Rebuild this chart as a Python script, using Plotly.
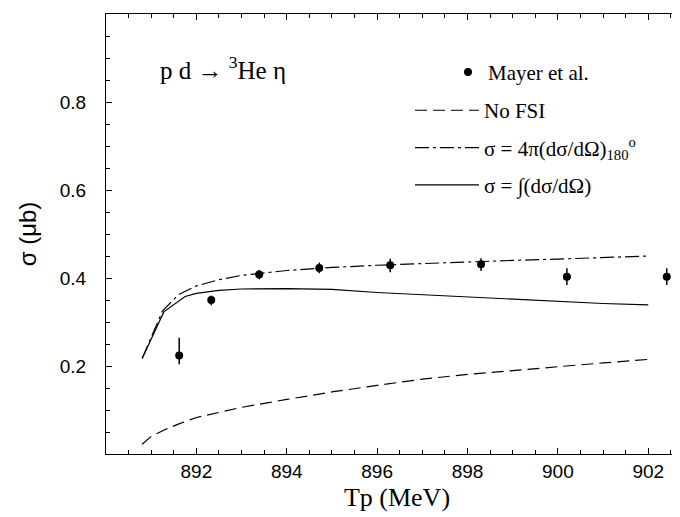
import plotly.graph_objects as go

# ---- data ----
tp_data = [891.62, 892.33, 893.39, 894.72, 896.29, 898.30, 900.20, 902.41]
sigma_data = [0.224, 0.350, 0.408, 0.423, 0.429, 0.431, 0.403, 0.403]
err_plus = [0.040, 0.010, 0.010, 0.012, 0.015, 0.014, 0.019, 0.019]
err_minus = [0.020, 0.012, 0.011, 0.012, 0.016, 0.015, 0.019, 0.019]

tp_nofsi = [890.8, 891.0, 891.3, 891.6, 892.0, 893.0, 894.0, 895.0, 896.0, 897.0,
            898.0, 899.0, 900.0, 901.0, 902.0]
sigma_nofsi = [0.022, 0.040, 0.055, 0.068, 0.083, 0.106, 0.124, 0.141, 0.156, 0.170,
               0.181, 0.190, 0.199, 0.207, 0.215]

tp_180 = [890.8, 891.25, 891.6, 892.0, 892.5, 893.0, 894.0, 895.0, 896.0, 897.0,
          898.0, 899.0, 900.0, 901.0, 902.0]
sigma_180 = [0.217, 0.325, 0.362, 0.382, 0.396, 0.406, 0.417, 0.424, 0.429, 0.433,
             0.437, 0.440, 0.443, 0.447, 0.450]

tp_int = [890.8, 891.28, 891.75, 892.0, 892.5, 893.0, 894.0, 895.0, 896.0, 897.0,
          898.0, 899.0, 900.0, 901.0, 902.0]
sigma_int = [0.217, 0.323, 0.358, 0.365, 0.372, 0.375, 0.376, 0.374, 0.367, 0.362,
             0.356, 0.351, 0.346, 0.342, 0.339]

x_tickvals = [892, 894, 896, 898, 900, 902]
x_ticktext = ["892", "894", "896", "898", "900", "902"]
y_tickvals = [0.2, 0.4, 0.6, 0.8]
y_ticktext = ["0.2", "0.4", "0.6", "0.8"]

names = ["Mayer et al.", "No FSI",
         "σ = 4π(dσ/dΩ)<sub>180</sub><sup>o</sup>", "σ = ∫(dσ/dΩ)"]

SERIF = "Liberation Serif, Times New Roman, serif"
SANS = "Liberation Sans, Arial, sans-serif"

fig = go.Figure()

fig.add_trace(go.Scatter(x=tp_nofsi, y=sigma_nofsi, mode="lines", name=names[1],
                         line=dict(color="black", width=1.2, dash="12px,6px"),
                         legendrank=2, legendgroup="b"))
fig.add_trace(go.Scatter(x=tp_180, y=sigma_180, mode="lines", name=names[2],
                         line=dict(color="black", width=1.2, dash="14px,4px,3px,4px"),
                         legendrank=3, legendgroup="c"))
fig.add_trace(go.Scatter(x=tp_int, y=sigma_int, mode="lines", name=names[3],
                         line=dict(color="black", width=1.2),
                         legendrank=4, legendgroup="d"))
fig.add_trace(go.Scatter(x=tp_data, y=sigma_data, mode="markers", name=names[0],
                         marker=dict(color="black", size=8),
                         error_y=dict(type="data", symmetric=False, array=err_plus,
                                      arrayminus=err_minus, color="black",
                                      thickness=1.5, width=0),
                         legend="legend2"))
# invisible helper trace so the right-hand tick axis is rendered
fig.add_trace(go.Scatter(x=tp_data, y=sigma_data, mode="none", yaxis="y2",
                         showlegend=False, hoverinfo="skip"))

XR = [890, 902.88]
YR = [0, 1.0]

fig.update_layout(
    width=680, height=517,
    margin=dict(l=98, r=0, t=6, b=70.5),
    paper_bgcolor="white", plot_bgcolor="white",
    showlegend=True,
    legend=dict(x=0.5223, y=0.827, xanchor="left", yanchor="top",
                font=dict(family=SERIF, size=21, color="black"),
                itemwidth=64, tracegroupgap=7, traceorder="grouped",
                bgcolor="rgba(0,0,0,0)"),
    legend2=dict(x=0.5876, y=0.914, xanchor="left", yanchor="top",
                 font=dict(family=SERIF, size=21, color="black"),
                 itemwidth=30, bgcolor="rgba(0,0,0,0)"),
    xaxis=dict(range=XR, showline=True, linecolor="black", linewidth=1.2,
               mirror="ticks", ticks="inside", ticklen=6, tickcolor="black",
               tickvals=x_tickvals, ticktext=x_ticktext, showgrid=False,
               zeroline=False,
               tickfont=dict(family=SANS, size=19, color="black"),
               minor=dict(dtick=0.5, tick0=890, ticks="inside", ticklen=3.5,
                          tickcolor="black", showgrid=False),
               title=dict(text="Tp (MeV)", font=dict(family=SERIF, size=26, color="black"),
                          standoff=6)),
    yaxis=dict(range=YR, showline=True, linecolor="black", linewidth=1.2,
               mirror=False, ticks="inside", ticklen=6, tickcolor="black",
               tickvals=y_tickvals, ticktext=y_ticktext, showgrid=False,
               zeroline=False, ticklabelstandoff=15,
               tickfont=dict(family=SANS, size=19, color="black"),
               minor=dict(dtick=0.05, tick0=0, ticks="inside", ticklen=3.5,
                          tickcolor="black", showgrid=False),
               title=dict(text="σ (μb)", font=dict(family=SANS, size=24, color="black"),
                          standoff=16)),
    yaxis2=dict(range=YR, overlaying="y", side="right", showline=False,
                ticks="inside", ticklen=3, tickcolor="black",
                tickvals=y_tickvals, showticklabels=False, showgrid=False,
                zeroline=False),
    annotations=[dict(text="p d → <sup>3</sup>He η", xref="paper", yref="paper",
                      x=(150 - 98) / 582, y=(446.5 - 60) / 440.5,
                      xanchor="left", yanchor="middle", showarrow=False,
                      font=dict(family=SERIF, size=25, color="black"))],
)

fig.write_html("out.html")
